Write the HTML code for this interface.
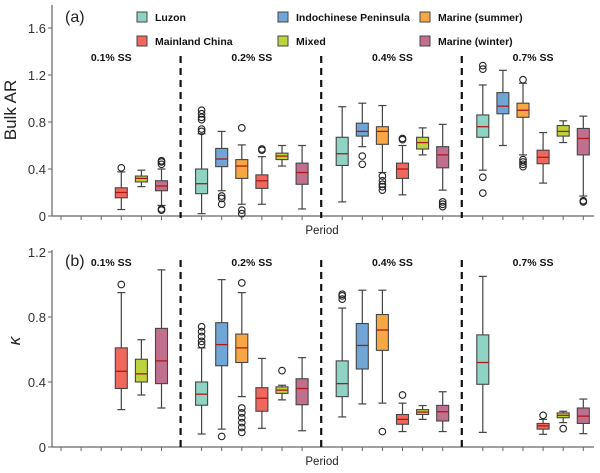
<!DOCTYPE html>
<html><head><meta charset="utf-8"><style>
html,body{margin:0;padding:0;background:#fff;}
svg{display:block;font-family:"Liberation Sans","DejaVu Sans",sans-serif;}
</style></head><body>
<svg id="chart" width="600" height="473" viewBox="0 0 600 473"></svg>
<script>
const categories = ["Luzon","Indochinese Peninsula","Marine (summer)","Mainland China","Mixed","Marine (winter)"];
const groups = ["0.1% SS","0.2% SS","0.4% SS","0.7% SS"];
const colors = ["#8fd3c5","#6fa6d6","#f7a845","#f0675e","#bdd33e","#c0708e"];
const yTicksA = [0,0.4,0.8,1.2,1.6];
const yTicksB = [0,0.4,0.8,1.2];
// [group, category, low, q1, median, q3, high, outliers]
const boxesA = [
 [0,3,0.055,0.155,0.20,0.24,0.375,[0.41]],
 [0,4,0.25,0.29,0.32,0.34,0.39,[]],
 [0,5,0.09,0.215,0.255,0.30,0.40,[0.44,0.46,0.47,0.05,0.06]],
 [1,0,0.02,0.19,0.275,0.40,0.70,[0.72,0.74,0.82,0.84,0.87,0.9]],
 [1,1,0.215,0.42,0.485,0.575,0.72,[0.17,0.15,0.10]],
 [1,2,0.10,0.32,0.425,0.48,0.605,[0.75,0.05,0.02]],
 [1,3,0.10,0.235,0.30,0.35,0.505,[0.56,0.57]],
 [1,4,0.425,0.48,0.51,0.535,0.60,[]],
 [1,5,0.06,0.27,0.37,0.45,0.60,[]],
 [2,0,0.12,0.43,0.53,0.67,0.93,[]],
 [2,1,0.59,0.68,0.72,0.79,0.96,[0.51,0.44]],
 [2,2,0.37,0.61,0.72,0.76,0.94,[0.34,0.30,0.27,0.25,0.22]],
 [2,3,0.18,0.32,0.40,0.45,0.60,[0.65,0.66]],
 [2,4,0.52,0.57,0.625,0.67,0.75,[]],
 [2,5,0.22,0.41,0.52,0.59,0.78,[0.12,0.10,0.08]],
 [3,0,0.39,0.67,0.76,0.86,1.115,[1.28,1.25,0.33,0.195]],
 [3,1,0.60,0.87,0.935,1.05,1.24,[]],
 [3,2,0.52,0.84,0.90,0.96,1.13,[1.16,0.48,0.46,0.44,0.42]],
 [3,3,0.28,0.445,0.50,0.56,0.71,[]],
 [3,4,0.625,0.68,0.72,0.77,0.81,[]],
 [3,5,0.17,0.52,0.66,0.745,0.85,[0.12,0.13]]
];
const boxesB = [
 [0,3,0.23,0.36,0.466,0.61,0.95,[1.0]],
 [0,4,0.32,0.40,0.45,0.54,0.66,[]],
 [0,5,0.24,0.39,0.53,0.73,1.09,[]],
 [1,0,0.08,0.257,0.325,0.40,0.61,[0.63,0.65,0.68,0.71,0.74]],
 [1,1,0.11,0.50,0.63,0.765,1.03,[0.065]],
 [1,2,0.31,0.52,0.61,0.695,0.95,[1.01,0.24,0.21,0.18,0.15,0.12,0.09]],
 [1,3,0.115,0.22,0.30,0.365,0.545,[]],
 [1,4,0.29,0.33,0.35,0.37,0.38,[0.47]],
 [1,5,0.10,0.26,0.36,0.42,0.55,[]],
 [2,0,0.185,0.31,0.39,0.53,0.855,[0.91,0.93,0.94]],
 [2,1,0.265,0.48,0.625,0.76,0.965,[]],
 [2,2,0.27,0.595,0.72,0.815,0.965,[0.095]],
 [2,3,0.095,0.14,0.17,0.20,0.27,[0.32]],
 [2,4,0.17,0.20,0.215,0.23,0.255,[]],
 [2,5,0.095,0.16,0.217,0.256,0.34,[]],
 [3,0,0.09,0.386,0.52,0.69,1.05,[]],
 [3,3,0.078,0.11,0.13,0.145,0.17,[0.195]],
 [3,4,0.15,0.18,0.195,0.21,0.22,[0.113]],
 [3,5,0.082,0.145,0.19,0.24,0.295,[]]
];
const svg = document.getElementById('chart');
const NS = 'http://www.w3.org/2000/svg';
function mk(tag, attrs, parent){ const e=document.createElementNS(NS,tag); for(const k in attrs) e.setAttribute(k,attrs[k]); (parent||svg).appendChild(e); return e; }
function xPos(g,c){ return 61 + g*140.6 + c*20.1; }
const panels = [
 {y0:216, top:5, scale:117.5, ticks:yTicksA, data:boxesA, label:"(a)", lx:65, ly:22, ssY:61, ylab:"Bulk AR", ylx:16, yly:110, pY:234, dashTop:56, name:'panel-a', it:false},
 {y0:447, top:250, scale:162.5, ticks:yTicksB, data:boxesB, label:"(b)", lx:65, ly:266, ssY:266, ylab:"κ", ylx:20, yly:341, pY:465, dashTop:260, name:'panel-b', it:true}
];
panels.forEach(p=>{
  const g = mk('g',{});
  
  
  const yS = v => p.y0 - v*p.scale;
  const ya = mk('line',{x1:52,y1:p.top,x2:52,y2:p.y0,stroke:'#666','stroke-width':1.2},g);
   
  const xa = mk('line',{x1:52,y1:p.y0,x2:594,y2:p.y0,stroke:'#666','stroke-width':1.2},g);
   
  p.ticks.forEach(t=>{
    mk('line',{x1:48,x2:52,y1:yS(t),y2:yS(t),stroke:'#666'},g);
    const tl = mk('text',{x:46,y:yS(t)+5,'text-anchor':'end','font-size':13,fill:'#333'},g);
    tl.textContent = t===0?'0':t.toFixed(1);
     
  });
  for(let gi=0;gi<groups.length;gi++){
    for(let c=0;c<6;c++) mk('line',{x1:xPos(gi,c),x2:xPos(gi,c),y1:p.y0,y2:p.y0+4,stroke:'#666'},g);
    const st = mk('text',{x:xPos(gi,2.5),y:p.ssY,'text-anchor':'middle','font-size':10.5,'font-weight':'bold',fill:'#111'},g);
    st.textContent = groups[gi];
     
    if(gi>0){
      const dx = xPos(gi,0)-21;
      const d = mk('line',{x1:dx,x2:dx,y1:p.dashTop,y2:p.y0+2,stroke:'#111','stroke-width':2.2,'stroke-dasharray':'7,5'},g);
       
    }
  }
  const lab = mk('text',{x:p.lx,y:p.ly,'font-size':16,fill:'#222'},g); lab.textContent=p.label;
   
  const ylAttrs = {x:p.ylx,y:p.yly,'text-anchor':'middle','font-size':17,fill:'#222',transform:`rotate(-90 ${p.ylx} ${p.yly})`};
  if(p.it) ylAttrs['font-style']='italic';
  const yl = mk('text',ylAttrs,g);
  yl.textContent=p.ylab;  
  const pl = mk('text',{x:322,y:p.pY,'text-anchor':'middle','font-size':11.5,fill:'#222'},g); pl.textContent='Period';
   
  p.data.forEach(b=>{
    const [gi,c,lo,q1,md,q3,hi,out]=b;
    const x = xPos(gi,c), w=12;
    const bg = mk('g',{},g);
    
    
    mk('line',{x1:x,x2:x,y1:yS(hi),y2:yS(q3),stroke:'#444','stroke-width':1.2},bg);
    mk('line',{x1:x,x2:x,y1:yS(q1),y2:yS(lo),stroke:'#444','stroke-width':1.2},bg);
    mk('line',{x1:x-4,x2:x+4,y1:yS(hi),y2:yS(hi),stroke:'#444','stroke-width':1.2},bg);
    mk('line',{x1:x-4,x2:x+4,y1:yS(lo),y2:yS(lo),stroke:'#444','stroke-width':1.2},bg);
    mk('rect',{x:x-w/2,y:yS(q3),width:w,height:Math.max(1,yS(q1)-yS(q3)),fill:colors[c],stroke:'#444','stroke-width':1.1},bg);
    mk('line',{x1:x-w/2,x2:x+w/2,y1:yS(md),y2:yS(md),stroke:'#b01818','stroke-width':1.3},bg);
    out.forEach(o=>{
      const oc = mk('circle',{cx:x,cy:yS(o),r:3.3,fill:'none',stroke:'#222','stroke-width':1.1},bg);
       
    });
  });
});
// legend
const legPos = [[137,17],[278,17],[420,17],[137,41],[278,41],[420,41]];
const legOrder = [0,1,2,3,4,5];
legOrder.forEach((c,i)=>{
  const [lx,ly]=legPos[i];
  const lg = mk('g',{});
  
  
  mk('rect',{x:lx,y:ly-5,width:10,height:10,fill:colors[c],stroke:'#444','stroke-width':1},lg);
  const t = mk('text',{x:lx+18,y:ly+4,'font-size':10.5,'font-weight':'bold',fill:'#111'},lg);
  t.textContent = categories[c];
});
</script>
</body></html>
